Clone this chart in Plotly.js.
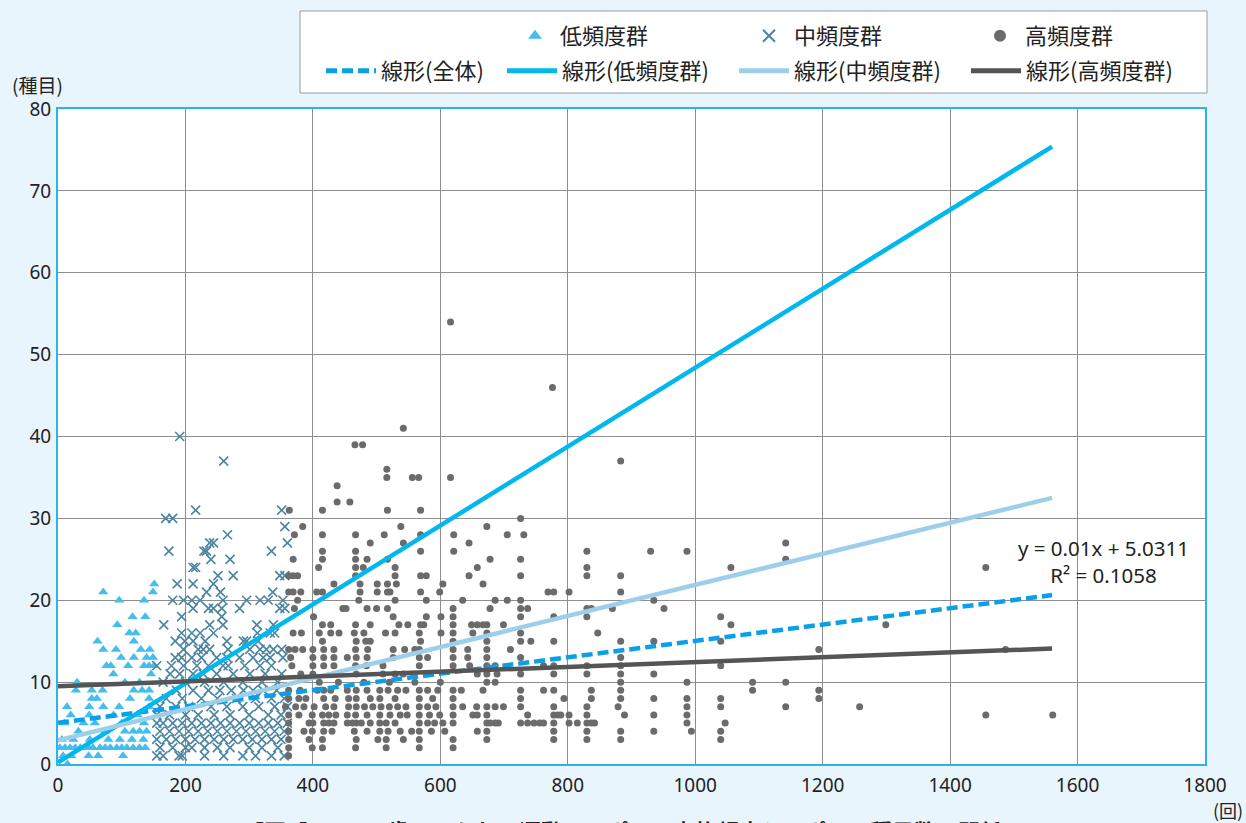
<!DOCTYPE html>
<html>
<head>
<meta charset="utf-8">
<script src="https://cdn.plot.ly/plotly-3.0.1.min.js"></script>
<style>
html,body{margin:0;padding:0;background:#e9f5fd;}
#chart{width:1246px;height:823px;}
</style>
</head>
<body>
<div id="chart"></div>
<script>
// ---- data ----
// rows: [species count, [sport frequency values ...]]
const lowRows = [
  [22,[151]],[21,[71,149]],[20,[96,135]],[18,[117,137]],[17,[93]],[16,[112,122]],
  [15,[62,119]],[14,[71,91,130,144]],[13,[99,119,139,149]],[12,[76,83,110,135,143,151]],
  [11,[87,146]],[10,[30,105,128]],[9,[28,53,70,119,132,143]],[8,[53,61,113,143]],
  [7,[14,49,71,96,143]],[6,[20,49,87,125]],[5,[10,40,58,100,135]],
  [4,[32,74,105,118,128,139]],[3,[6,24,50,79,97,116,134]],
  [2,[3,11,19,27,35,48,55,66,74,82,92,100,108,118,128,137]],
  [1,[8,21,48,63,102]],[0,[15]]
];
const midRows = [
  [40,[191]],[37,[260]],[31,[216,351]],[30,[169,180]],[29,[356]],[28,[266]],
  [27,[238,244,360]],[26,[174,229,233,335]],[25,[240,270]],[24,[212,216]],
  [23,[251,275,348,356]],[22,[187,212,244]],[21,[233,255,337]],
  [20,[180,197,210,223,259,296,317,330,353]],[19,[212,236,244,257,285,348,356]],
  [18,[194,257]],[17,[166,238,259,312,338]],[16,[194,210,223,244,313,333,340]],
  [15,[184,199,212,231,265,291,296,314]],[14,[197,220,228,238,267,301,317,327,338,351]],
  [13,[184,194,210,225,249,265,285,306,322,333,353]],[12,[155,178,197,218,236,259,267,293,317,335]],
  [11,[176,191,212,228,249,275,301,325,351]],[10,[165,200,230,260,290,320,345]],
  [9,[186,212,236,254,272,291,306,322,343]],[8,[170,195,225,250,280,310,335,355]],
  [7,[160,185,205,240,265,290,315,340,360]],[6,[155,175,200,220,245,270,300,330,350]],
  [5,[155,165,180,195,210,225,240,255,270,285,300,315,330,345,360]],
  [4,[160,175,190,205,220,235,250,265,280,295,310,325,340,355]],
  [3,[155,170,185,200,215,230,245,260,275,290,305,320,335,350]],
  [2,[160,180,200,210,230,250,270,300,320,345]],
  [1,[155,165,190,195,230,260,290,310,335,355]]
];
const highRows = [
  [54,[616]],[46,[776]],[41,[542]],[39,[466,478]],[37,[883]],[36,[516]],
  [35,[516,556,566,616]],[34,[438]],[32,[438,458]],[31,[363,415,517,569]],[30,[726]],
  [29,[384,538,673]],[28,[371,415,467,512,569,621,705,731]],[27,[490,542,645,1142]],
  [26,[415,467,569,621,830,930,987]],[25,[369,415,467,485,517,678,726,1142]],
  [24,[409,467,479,529,658,830,1056,1456]],[23,[362,369,376,467,529,569,578,645,726,830,883]],
  [22,[433,474,501,517,531,604,667]],
  [21,[362,369,381,406,415,474,501,517,521,569,599,769,778,802,883]],
  [20,[376,472,529,578,635,686,705,726,935]],
  [19,[371,447,452,485,500,517,620,678,726,737,830,837,870,951]],
  [18,[401,526,578,601,620,726,778,830,1040]],
  [17,[415,428,467,490,535,549,569,574,620,649,658,667,673,699,1056,1299]],
  [16,[369,382,410,428,441,465,480,514,529,567,601,620,651,673,726,847]],
  [15,[415,468,483,490,569,620,673,726,742,778,883,935,1040]],
  [14,[362,372,384,400,417,433,467,486,526,544,560,567,620,643,673,710,1194,1487]],
  [13,[365,400,417,433,454,468,485,526,567,580,620,643,673,726,883]],
  [12,[367,400,417,433,467,484,510,567,620,646,673,686,762,778,830,883,1040]],
  [11,[381,400,468,510,529,542,658,673,689,726,778,830,883,935]],
  [10,[410,440,480,520,560,600,673,686,883,987,1090,1142]],
  [9,[362,380,407,417,428,454,468,485,505,518,533,546,567,580,596,620,633,667,726,762,778,837,883,1090,1194]],
  [8,[362,378,389,417,435,456,468,490,505,529,567,588,620,726,794,837,883,935,987,1040,1194]],
  [7,[357,373,386,402,420,433,456,468,481,494,507,520,533,546,567,580,593,620,635,657,673,686,699,726,778,830,879,987,1040,1142,1258]],
  [6,[362,378,399,415,425,436,454,467,485,505,521,537,548,567,583,599,620,651,658,673,737,778,784,789,802,830,889,935,987,1456,1561]],
  [5,[362,394,400,417,425,433,454,462,468,476,490,505,515,529,567,580,591,604,620,673,678,686,691,726,737,747,756,762,778,802,815,830,837,842,987,1047]],
  [4,[362,386,399,417,430,465,485,505,518,537,555,567,586,607,658,673,778,830,883,935,994,1040]],
  [3,[362,394,415,468,502,515,542,567,620,673,778,830,883,1040]],
  [2,[362,399,415,467,515,567,620]],
  [1,[362]]
];
// linear trend lines (endpoints)
const trendX = [0, 1560];
const trendAllY = [5.0311, 20.63];
const trendLowY = [0.2, 75.4];
const trendMidY = [2.9, 32.5];
const trendHighY = [9.5, 14.1];
const seriesNames = ['低頻度群','中頻度群','高頻度群','線形(全体)','線形(低頻度群)','線形(中頻度群)','線形(高頻度群)'];
const xTicks = [0,200,400,600,800,1000,1200,1400,1600,1800];
const yTicks = [0,10,20,30,40,50,60,70,80];
const eqText = 'y = 0.01x + 5.0311<br>R² = 0.1058';
const captionText = '【図1】 4～11歳にみられる運動・スポーツ実施頻度とスポーツ種目数の関係';

function expand(rows){
  const xs=[], ys=[];
  rows.forEach(r=>r[1].forEach(v=>{xs.push(v); ys.push(r[0]);}));
  return {x:xs, y:ys};
}
const lowP = expand(lowRows), midP = expand(midRows), highP = expand(highRows);

const JP = '"Noto Sans CJK JP", "Noto Sans", sans-serif';
const traces = [
  {type:'scatter', mode:'markers', name:seriesNames[0], x:lowP.x, y:lowP.y, legend:'legend',
   marker:{symbol:'triangle-up', size:9, color:'#45bdee'}},
  {type:'scatter', mode:'markers', name:seriesNames[1], x:midP.x, y:midP.y, legend:'legend2',
   marker:{symbol:'x-thin', size:9, color:'#4b85a0', line:{width:1.6, color:'#4b85a0'}}},
  {type:'scatter', mode:'markers', name:seriesNames[2], x:highP.x, y:highP.y, legend:'legend3',
   marker:{symbol:'circle', size:7, color:'#6b6b6b'}},
  {type:'scatter', mode:'lines', name:seriesNames[3], x:trendX, y:trendAllY, legend:'legend4',
   line:{color:'#0aa0e8', width:4.5, dash:'11px,5px'}},
  {type:'scatter', mode:'lines', name:seriesNames[4], x:trendX, y:trendLowY, legend:'legend5',
   line:{color:'#00b8ee', width:4.5}},
  {type:'scatter', mode:'lines', name:seriesNames[5], x:trendX, y:trendMidY, legend:'legend6',
   line:{color:'#9dcfea', width:4.5}},
  {type:'scatter', mode:'lines', name:seriesNames[6], x:trendX, y:trendHighY, legend:'legend7',
   line:{color:'#555555', width:4.5}}
];

// pixel helpers for paper positions
const L=58, R=1205, T=109, B=764;
const px = v => (v-L)/(R-L);
const py = v => (B-v)/(B-T);
function leg(x, y, w){
  return {x:px(x), y:py(y), xanchor:'left', yanchor:'middle', orientation:'h',
    bgcolor:'rgba(0,0,0,0)', borderwidth:0, itemwidth:w, itemsizing:'constant',
    font:{family:JP, size:22, color:'#222'}};
}

const axisCommon = {
  showgrid:true, gridcolor:'#8e8e8e', gridwidth:1, zeroline:false,
  showline:true, mirror:true, linecolor:'#2db3ea', linewidth:2,
  ticks:'', tickfont:{family:'"Noto Sans", sans-serif', size:19, color:'#222'},
  fixedrange:true
};

const layout = {
  width:1246, height:823,
  paper_bgcolor:'#e9f5fd', plot_bgcolor:'#ffffff',
  margin:{l:L, r:1246-R, t:T, b:823-B, autoexpand:false},
  showlegend:true,
  xaxis:Object.assign({}, axisCommon, {range:[0,1800], tickvals:xTicks, ticktext:xTicks.map(String), ticklabelstandoff:3}),
  yaxis:Object.assign({}, axisCommon, {range:[0,80], tickvals:yTicks, ticktext:yTicks.map(String), ticklabelstandoff:1}),
  legend:leg(510,36,40),
  legend2:leg(744,36,40),
  legend3:leg(975,36,40),
  legend4:leg(321,71,50),
  legend5:leg(502,71,50),
  legend6:leg(734,71,50),
  legend7:leg(966,71,50),
  shapes:[
    {type:'rect', xref:'paper', yref:'paper', x0:px(300), x1:px(1207), y0:py(93), y1:py(11),
     fillcolor:'#ffffff', line:{color:'#9a9a9a', width:1}, layer:'below'}
  ],
  annotations:[
    {xref:'x', yref:'y', x:1641, y:24.7, text:eqText, showarrow:false, align:'center',
     xanchor:'center', yanchor:'middle',
     font:{family:'"Noto Sans", sans-serif', size:20.5, color:'#222'}},
    {xref:'paper', yref:'paper', x:px(37), y:py(84), xanchor:'center', yanchor:'middle',
     text:'(種目)', showarrow:false, font:{family:JP, size:19, color:'#222'}},
    {xref:'paper', yref:'paper', x:px(1228), y:py(810), xanchor:'center', yanchor:'middle',
     text:'(回)', showarrow:false, font:{family:JP, size:18, color:'#222'}},
    {xref:'paper', yref:'paper', x:px(622), y:py(812), xanchor:'center', yanchor:'top',
     text:'<b>'+captionText+'</b>', showarrow:false, font:{family:JP, size:22, color:'#222'}}
  ]
};

Plotly.newPlot('chart', traces, layout, {displayModeBar:false, staticPlot:true});
</script>
</body>
</html>
